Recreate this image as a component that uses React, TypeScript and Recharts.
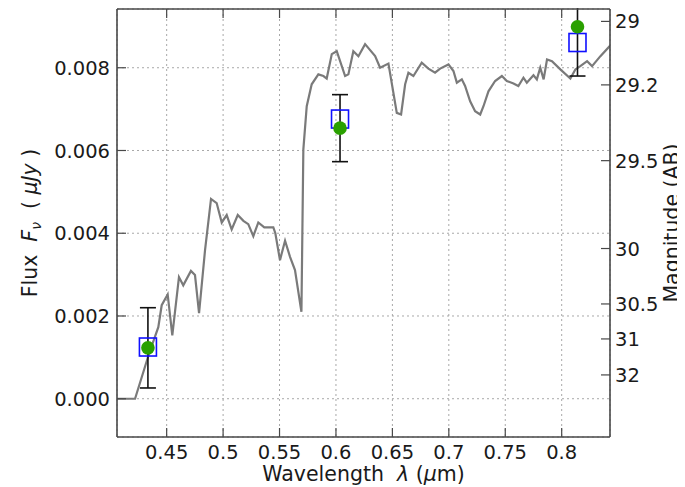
import { CartesianGrid, ComposedChart, ErrorBar, Line, Scatter, XAxis, YAxis } from 'recharts';

// model spectrum
const specWave = [
  0.406, 0.422, 0.4345, 0.4426, 0.4456, 0.4509, 0.455, 0.4609, 0.4647, 0.4715, 0.4751, 0.4787,
  0.484, 0.4893, 0.4943, 0.4988, 0.5032, 0.5076, 0.513, 0.518, 0.5223, 0.5268, 0.5312, 0.5365,
  0.5445, 0.5463, 0.5504, 0.5549, 0.5593, 0.5637, 0.5694, 0.5711, 0.5741, 0.5785, 0.5844, 0.5889,
  0.5918, 0.5963, 0.6007, 0.6081, 0.611, 0.6154, 0.6199, 0.6258, 0.6347, 0.6391, 0.6465, 0.6539,
  0.6577, 0.6613, 0.6642, 0.6686, 0.676, 0.6819, 0.6878, 0.6923, 0.6997, 0.7041, 0.7071, 0.7115,
  0.7144, 0.7189, 0.7233, 0.7278, 0.7307, 0.7351, 0.741, 0.747, 0.7514, 0.7573, 0.7616, 0.7661,
  0.7691, 0.775, 0.778, 0.781, 0.784, 0.787, 0.7914, 0.7988, 0.8077, 0.8121, 0.8165, 0.8225,
  0.8269, 0.8343, 0.8428,
];
const specFlux = [
  0, 0, 0.0011, 0.00173, 0.00226, 0.00252, 0.00153, 0.00294, 0.00274, 0.00309, 0.00299, 0.00207,
  0.00359, 0.00483, 0.00473, 0.00426, 0.00444, 0.00409, 0.00444, 0.0043, 0.00422, 0.00393, 0.00426, 0.00414,
  0.00414, 0.004, 0.00335, 0.00382, 0.00343, 0.00311, 0.0021, 0.00602, 0.00707, 0.0076, 0.00784, 0.0078,
  0.00774, 0.00833, 0.0084, 0.0078, 0.00784, 0.0084, 0.00828, 0.00857, 0.00828, 0.008, 0.0081, 0.00691,
  0.00687, 0.0076, 0.00788, 0.0078, 0.00812, 0.00798, 0.00788, 0.00798, 0.00808, 0.00792, 0.00764, 0.00772,
  0.00756, 0.00719, 0.00695, 0.00687, 0.00707, 0.00743, 0.00768, 0.0078, 0.00768, 0.00762, 0.00756, 0.00776,
  0.00764, 0.00782, 0.00772, 0.008, 0.00772, 0.0082, 0.00816, 0.00796, 0.00774, 0.00796, 0.00804, 0.00816,
  0.00804, 0.00828, 0.00853,
];

// photometry: model (open squares) and observed (green dots with errors)
const photWave = [0.4334, 0.6036, 0.814];
const modelFlux = [0.00125, 0.00676, 0.00861];
const obsFlux = [0.00123, 0.00654, 0.00899];
const obsErr = [0.00097, 0.00081, 0.00119];

const waveTicks = [0.45, 0.5, 0.55, 0.6, 0.65, 0.7, 0.75, 0.8];
const waveLabels = ['0.45', '0.5', '0.55', '0.6', '0.65', '0.7', '0.75', '0.8'];
const fluxTicks = [0, 0.002, 0.004, 0.006, 0.008];
const fluxLabels = ['0.000', '0.002', '0.004', '0.006', '0.008'];
const magLabels = ['29', '29.2', '29.5', '30', '30.5', '31', '32'];

// AB magnitude <-> flux in uJy
const magToFlux = (m: number) => Math.pow(10, (23.9 - m) / 2.5);
const magTicks = magLabels.map((m) => magToFlux(Number(m)));

const spectrum = specWave.map((w, i) => ({ wave: w, flux: specFlux[i] }));
const models = photWave.map((w, i) => ({ wave: w, flux: modelFlux[i] }));
const observed = photWave.map((w, i) => ({ wave: w, flux: obsFlux[i], err: obsErr[i] }));

const WAVE_DOMAIN = [0.406, 0.8428];
const FLUX_DOMAIN = [-0.000925, 0.00942];

const FONT = 'DejaVu Sans, sans-serif';
const FRAME = '#484848';
const TEXT = '#1a1a1a';
const TICK_LEN = 9;
const TICK_SIZE = 19.5;
const LABEL_SIZE = 20.5;

function LeftTick({ x, y, index }: any) {
  return (
    <g>
      <line x1={x + 7} x2={x + 7 + TICK_LEN} y1={y} y2={y} stroke={FRAME} strokeWidth={1.2} />
      <text x={x} y={y} dy="0.36em" textAnchor="end" fontSize={TICK_SIZE} fontFamily={FONT} fill={TEXT}>
        {fluxLabels[index]}
      </text>
    </g>
  );
}

function RightTick({ x, y, index }: any) {
  return (
    <g>
      <line x1={x - 5} x2={x - 5 - TICK_LEN} y1={y} y2={y} stroke={FRAME} strokeWidth={1.2} />
      <text x={x} y={y} dy="0.36em" textAnchor="start" fontSize={TICK_SIZE} fontFamily={FONT} fill={TEXT}>
        {magLabels[index]}
      </text>
    </g>
  );
}

function BottomTick({ x, y, index }: any) {
  return (
    <g>
      <line x1={x} x2={x} y1={y - 22} y2={y - 22 - TICK_LEN} stroke={FRAME} strokeWidth={1.2} />
      <text x={x} y={y} textAnchor="middle" fontSize={TICK_SIZE} fontFamily={FONT} fill={TEXT}>
        {waveLabels[index]}
      </text>
    </g>
  );
}

function TopTick({ x, y }: any) {
  return <line x1={x} x2={x} y1={y} y2={y + TICK_LEN} stroke={FRAME} strokeWidth={1.2} />;
}

function WaveLabel({ viewBox }: any) {
  const cx = viewBox.x + viewBox.width / 2;
  return (
    <text
      x={cx}
      y={viewBox.y + 44}
      textAnchor="middle"
      fontSize={LABEL_SIZE}
      fontFamily={FONT}
      fill={TEXT}
      style={{ whiteSpace: 'pre' }}
    >
      {'Wavelength  '}
      <tspan fontStyle="italic">λ</tspan>
      {' ('}
      <tspan fontStyle="italic">μ</tspan>
      {'m)'}
    </text>
  );
}

function FluxLabel({ viewBox }: any) {
  const cy = viewBox.y + viewBox.height / 2;
  const x = 29;
  return (
    <text
      x={x}
      y={cy}
      transform={`rotate(-90 ${x} ${cy})`}
      textAnchor="middle"
      fontSize={LABEL_SIZE}
      fontFamily={FONT}
      fill={TEXT}
      style={{ whiteSpace: 'pre' }}
    >
      {'Flux  '}
      <tspan fontStyle="italic">F</tspan>
      <tspan fontStyle="italic" fontSize={14} dy={4}>ν</tspan>
      <tspan dy={-4}>{'  ( '}</tspan>
      <tspan fontStyle="italic">μJy</tspan>
      {' )'}
    </text>
  );
}

function MagLabel({ viewBox }: any) {
  const cy = viewBox.y + viewBox.height / 2;
  const x = 671;
  return (
    <text
      x={x}
      y={cy}
      transform={`rotate(-90 ${x} ${cy})`}
      textAnchor="middle"
      fontSize={LABEL_SIZE}
      fontFamily={FONT}
      fill={TEXT}
    >
      Magnitude (AB)
    </text>
  );
}

function OpenSquare({ cx, cy }: any) {
  return <rect x={cx - 8.5} y={cy - 9} width={17} height={18} fill="none" stroke="#1010ff" strokeWidth={1.6} />;
}

function GreenDot({ cx, cy }: any) {
  return <circle cx={cx} cy={cy} r={6.8} fill="#2aa000" />;
}

export default function App() {
  return (
    <ComposedChart
      width={677}
      height={479}
      data={spectrum}
      margin={{ top: 0, right: 0, bottom: 0, left: 0 }}
      style={{ fontFamily: FONT }}
    >
      <CartesianGrid
        xAxisId="bottom"
        yAxisId="flux"
        stroke="#a8a8a8"
        strokeDasharray="2 3"
        strokeWidth={1}
      />
      <XAxis
        xAxisId="bottom"
        dataKey="wave"
        type="number"
        domain={WAVE_DOMAIN}
        allowDataOverflow
        ticks={waveTicks}
        height={50}
        tickSize={0}
        tickMargin={22}
        tickLine={false}
        tick={<BottomTick />}
        axisLine={{ stroke: FRAME, strokeWidth: 1.6 }}
        label={<WaveLabel />}
      />
      <XAxis
        xAxisId="top"
        orientation="top"
        dataKey="wave"
        type="number"
        domain={WAVE_DOMAIN}
        allowDataOverflow
        ticks={waveTicks}
        height={1}
        tickSize={0}
        tickMargin={0}
        tickLine={false}
        tick={<TopTick />}
        axisLine={{ stroke: FRAME, strokeWidth: 1.6 }}
      />
      <YAxis
        yAxisId="flux"
        type="number"
        domain={FLUX_DOMAIN}
        allowDataOverflow
        ticks={fluxTicks}
        width={109}
        tickSize={0}
        tickMargin={7}
        tickLine={false}
        tick={<LeftTick />}
        axisLine={{ stroke: FRAME, strokeWidth: 1.6 }}
        label={<FluxLabel />}
      />
      <YAxis
        yAxisId="mag"
        orientation="right"
        type="number"
        domain={FLUX_DOMAIN}
        allowDataOverflow
        ticks={magTicks}
        width={75}
        tickSize={0}
        tickMargin={5}
        tickLine={false}
        tick={<RightTick />}
        axisLine={{ stroke: FRAME, strokeWidth: 1.6 }}
        label={<MagLabel />}
      />
      <Line
        xAxisId="bottom"
        yAxisId="flux"
        dataKey="flux"
        type="linear"
        stroke="#7a7a7a"
        strokeWidth={2.2}
        dot={false}
        activeDot={false}
        isAnimationActive={false}
      />
      <Scatter
        xAxisId="bottom"
        yAxisId="flux"
        data={models}
        dataKey="flux"
        shape={<OpenSquare />}
        isAnimationActive={false}
      />
      <Scatter
        xAxisId="bottom"
        yAxisId="flux"
        data={observed}
        dataKey="flux"
        shape={<GreenDot />}
        isAnimationActive={false}
      >
        <ErrorBar dataKey="err" direction="y" width={8} stroke="#111" strokeWidth={1.6} />
      </Scatter>
    </ComposedChart>
  );
}
